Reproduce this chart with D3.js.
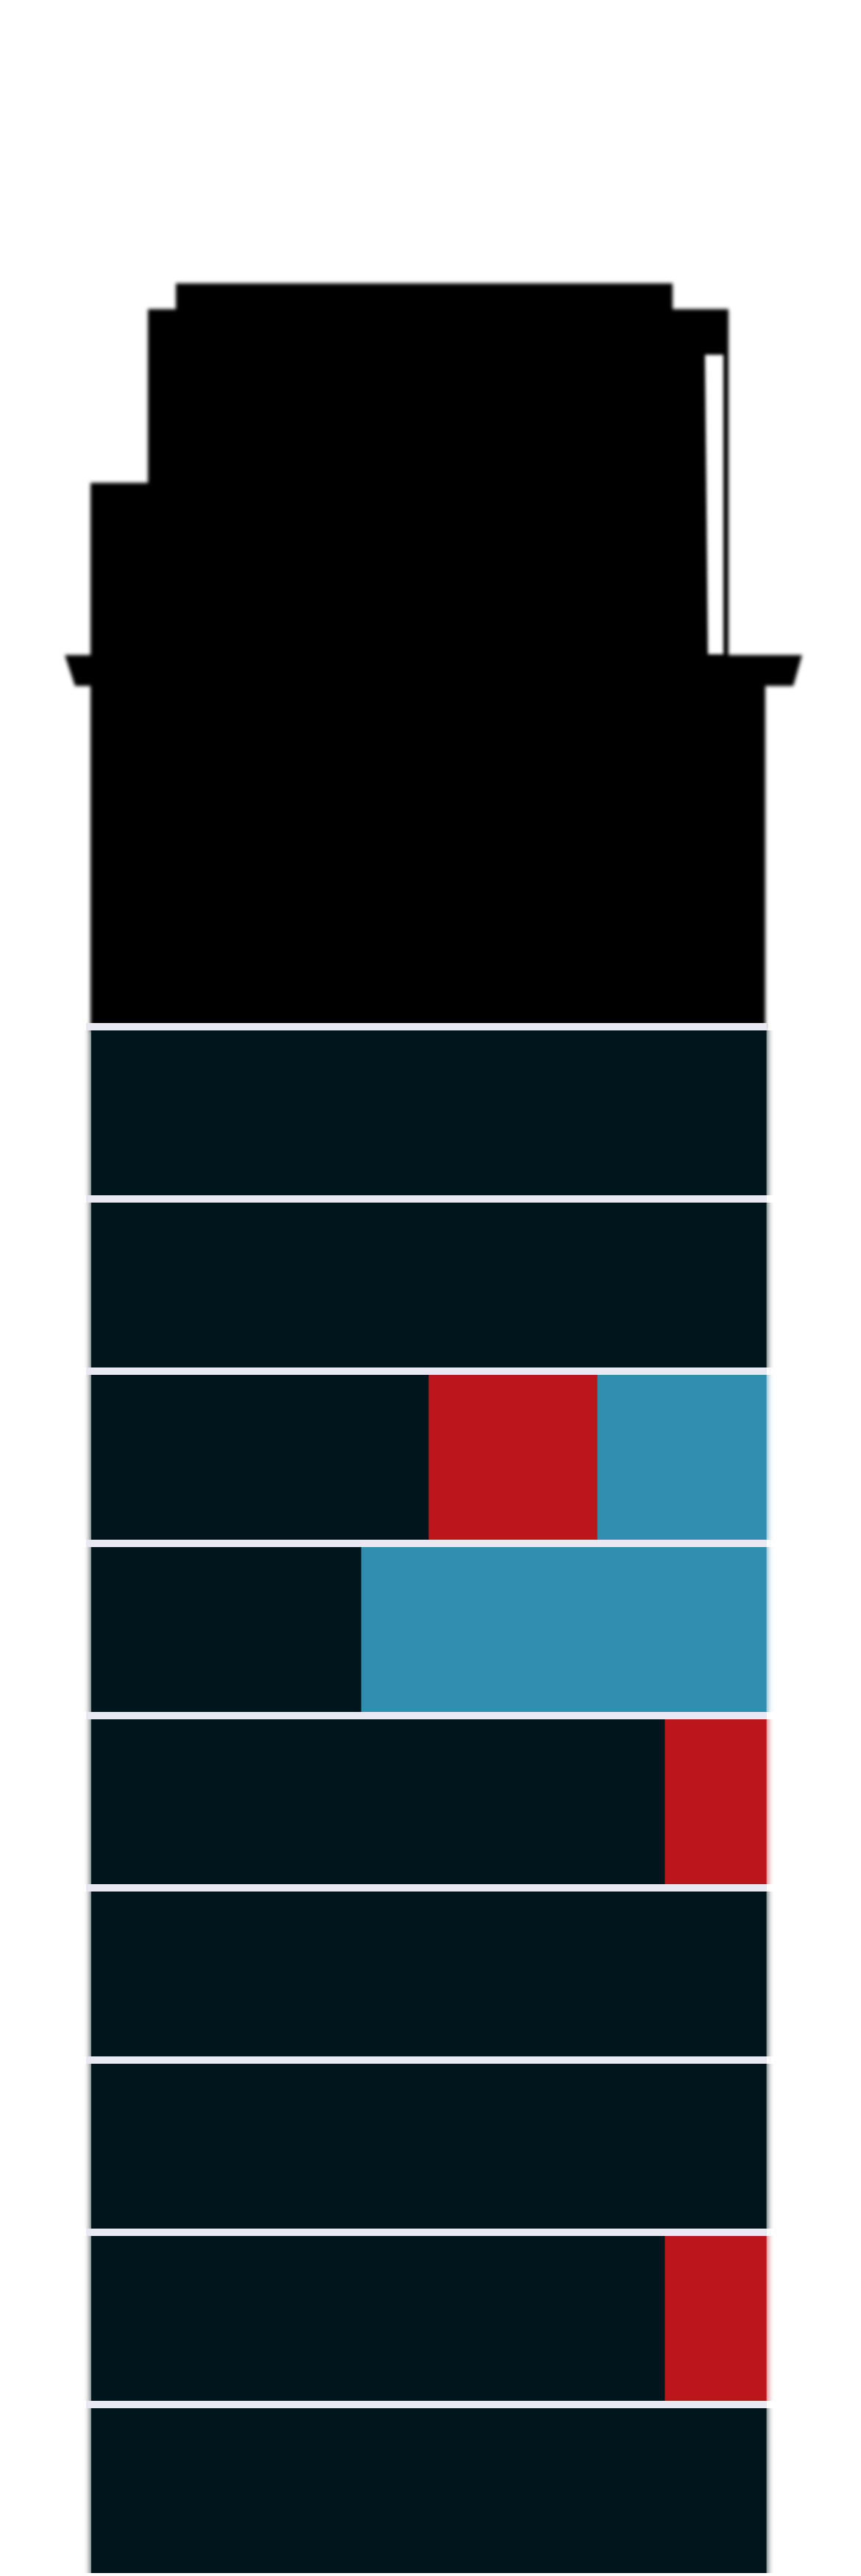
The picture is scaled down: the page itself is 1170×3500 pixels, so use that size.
<!DOCTYPE html>
<html>
<head>
<meta charset="utf-8">
<script src="https://cdn.jsdelivr.net/npm/d3@7/dist/d3.min.js"></script>
<style>
  html, body { margin: 0; padding: 0; background: #ffffff; }
  svg { display: block; }
</style>
</head>
<body>
<script>
// ---- data (top floor first) ----
const floors = ["F9", "F8", "F7", "F6", "F5", "F4", "F3", "F2", "F1"];
const darkShare = [100, 100, 50, 40, 85, 100, 100, 85, 100];
const redShare  = [0, 0, 25, 0, 15, 0, 0, 15, 0];
const blueShare = [0, 0, 25, 60, 0, 0, 0, 0, 0];
const seriesKeys = ["dark", "red", "blue"];
const seriesColors = ["#05161d", "#bc151c", "#318eb0"];

// decorative roof silhouette outline (illustration, not data)
const roofOutline = [
  [239, 385], [914, 385], [914, 420], [990, 420], [990, 890],
  [1090, 890], [1078, 932], [1040, 932], [1040, 1400], [123, 1400],
  [123, 932], [102, 932], [88, 890], [123, 890], [123, 656],
  [201, 656], [201, 420], [239, 420]
];
const slitOutline = [[958, 482], [983, 482], [983, 889], [962, 889]];

const W = 1170, H = 3500;
const svg = d3.select("body").append("svg")
  .attr("width", W).attr("height", H)
  .attr("viewBox", `0 0 ${W} ${H}`);

svg.append("rect").attr("width", W).attr("height", H).attr("fill", "#ffffff");

const defs = svg.append("defs");
const soft = defs.append("filter").attr("id", "soft")
  .attr("x", "-5%").attr("y", "-5%").attr("width", "110%").attr("height", "110%");
soft.append("feGaussianBlur").attr("stdDeviation", 2.5);

const halo = defs.append("filter").attr("id", "halo")
  .attr("x", "-5%").attr("y", "0%").attr("width", "110%").attr("height", "100%");
halo.append("feGaussianBlur").attr("in", "SourceGraphic").attr("stdDeviation", "5 0").attr("result", "b");
const merge = halo.append("feMerge");
merge.append("feMergeNode").attr("in", "b");
merge.append("feMergeNode").attr("in", "SourceGraphic");

const slitRound = defs.append("filter").attr("id", "slit")
  .attr("x", "-50%").attr("y", "-5%").attr("width", "200%").attr("height", "110%");
slitRound.append("feGaussianBlur").attr("stdDeviation", 2);

// ---- silhouette ----
const line = d3.line().curve(d3.curveLinearClosed);
svg.append("path").attr("d", line(roofOutline)).attr("fill", "#000").attr("filter", "url(#soft)");
svg.append("path").attr("d", line(slitOutline)).attr("fill", "#fff").attr("filter", "url(#slit)");

// ---- scales ----
const x = d3.scaleLinear().domain([0, 100]).range([124, 1041]);
const y = d3.scaleBand().domain(floors).range([1390, 3496]).paddingInner(0);
const sepH = 10;

const rows = floors.map((f, i) => ({ floor: f, dark: darkShare[i], red: redShare[i], blue: blueShare[i] }));
const stacked = d3.stack().keys(seriesKeys)(rows);
const color = d3.scaleOrdinal().domain(seriesKeys).range(seriesColors);

const barsG = svg.append("g").attr("filter", "url(#halo)");
barsG.selectAll("g.series")
  .data(stacked)
  .join("g")
  .attr("class", "series")
  .attr("fill", s => color(s.key))
  .selectAll("rect")
  .data(s => s.filter(d => d[1] - d[0] > 0))
  .join("rect")
  .attr("x", d => x(d[0]))
  .attr("width", d => x(d[1]) - x(d[0]) + 0.5)
  .attr("y", d => y(d.data.floor) + sepH)
  .attr("height", y.bandwidth() - sepH);

// separators between floors
svg.append("g").selectAll("rect")
  .data(floors)
  .join("rect")
  .attr("x", 117)
  .attr("width", 925)
  .attr("y", f => y(f))
  .attr("height", sepH)
  .attr("fill", "#e8e9f3");
</script>
</body>
</html>
